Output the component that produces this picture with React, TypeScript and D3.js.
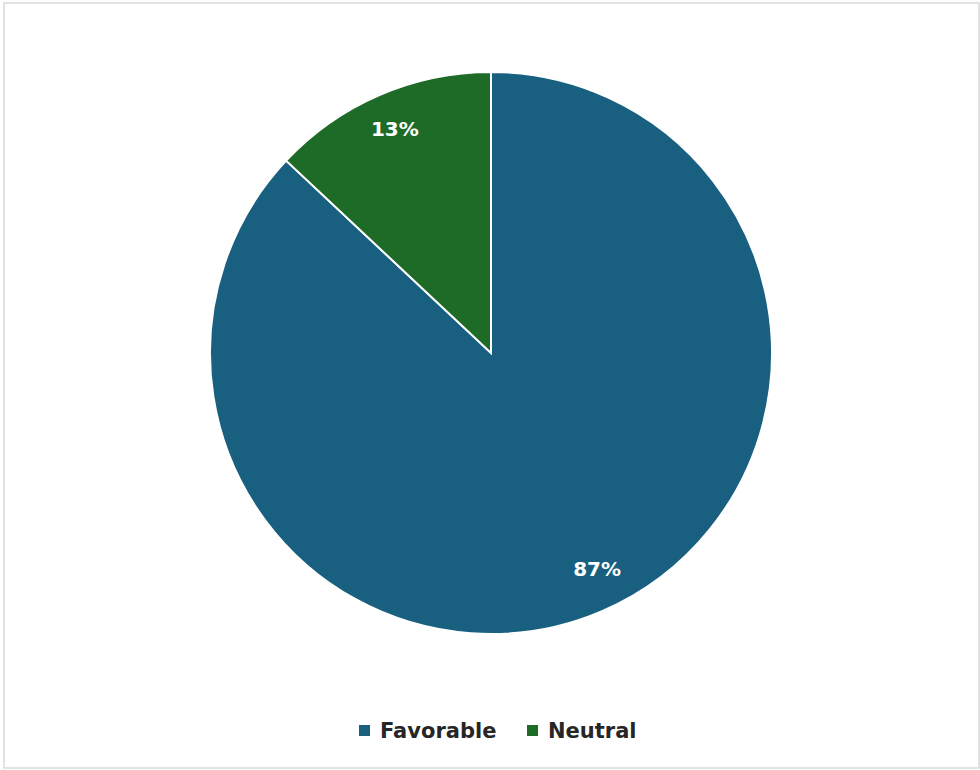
import React from "react";
import * as d3 from "d3";

const categories = ["Favorable", "Neutral"];
const values = [87, 13];
const labels = ["87%", "13%"];
const colors = ["#185f80", "#1e6b27"];

export default function App() {
  const W = 980, H = 770;
  const cx = 491, cy = 353, r = 281;
  const pie = d3.pie<number>().sort(null).startAngle(0).endAngle(2 * Math.PI);
  const arcs = pie(values);
  const arc = d3.arc<d3.PieArcDatum<number>>().innerRadius(0).outerRadius(r);
  const labelArc = d3.arc<d3.PieArcDatum<number>>().innerRadius(242).outerRadius(242);
  const font = "'DejaVu Sans', sans-serif";
  const legendItems = [
    { x: 359, tx: 380 },
    { x: 527, tx: 548 },
  ];
  const labelShift = [[10, -6], [0, -2]];
  return (
    <svg width={W} height={H} style={{ position: "absolute", left: 0, top: 0, background: "#fff" }}>
      <rect x={4} y={3} width={975} height={765} fill="#fff" stroke="#d9d9d9" strokeWidth={1.5} />
      <g transform={`translate(${cx},${cy})`}>
        {arcs.map((a, i) => (
          <path key={i} d={arc(a) || ""} fill={colors[i]} stroke="#fff" strokeWidth={2} />
        ))}
        {arcs.map((a, i) => {
          const [x, y] = labelArc.centroid(a);
          return (
            <text key={i} x={x + labelShift[i][0]} y={y + labelShift[i][1]} dy="0.36em" textAnchor="middle" fill="#fff"
              fontFamily={font} fontWeight="bold" fontSize={20}>
              {labels[i]}
            </text>
          );
        })}
      </g>
      {categories.map((c, i) => (
        <g key={c}>
          <rect x={legendItems[i].x} y={725} width={11} height={11} fill={colors[i]} />
          <text x={legendItems[i].tx} y={730.5} dy="0.36em" fontFamily={font} fontWeight="bold"
            fontSize={21} fill="#262626">{c}</text>
        </g>
      ))}
    </svg>
  );
}
